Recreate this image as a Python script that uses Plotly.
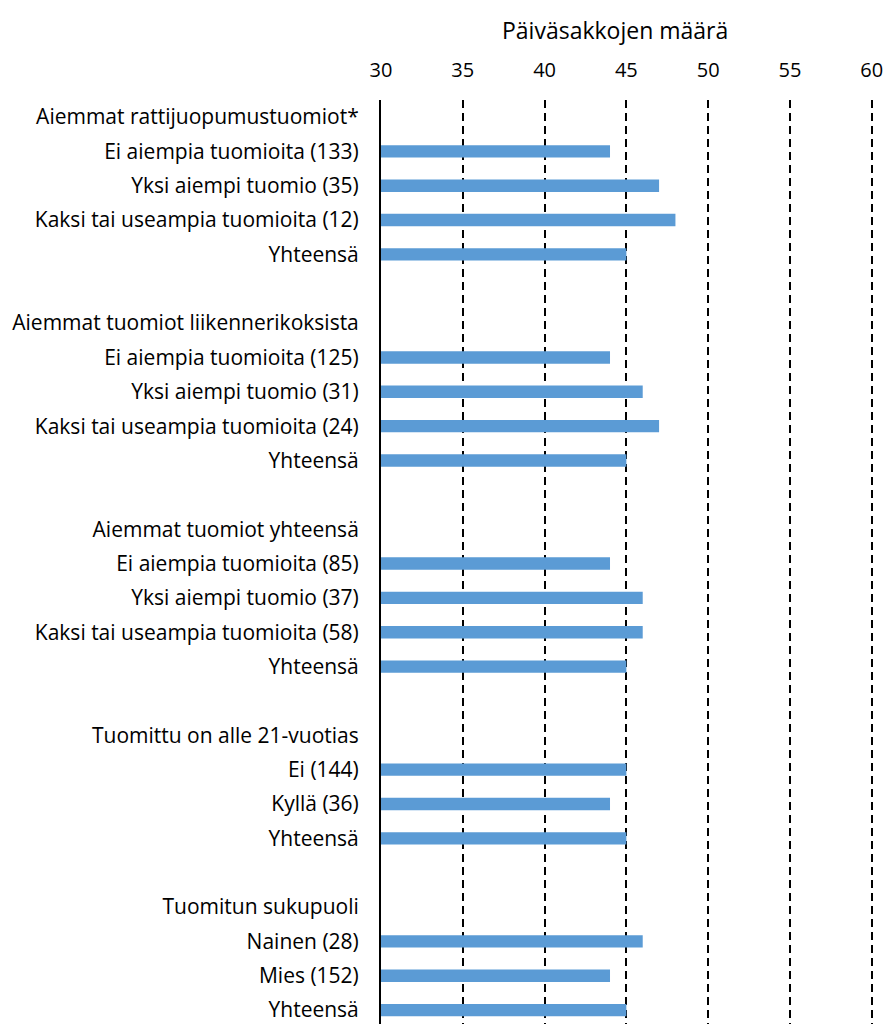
import plotly.graph_objects as go

labels = [
    "Aiemmat rattijuopumustuomiot*",
    "Ei aiempia tuomioita (133)",
    "Yksi aiempi tuomio (35)",
    "Kaksi tai useampia tuomioita (12)",
    "Yhteensä",
    "",
    "Aiemmat tuomiot liikennerikoksista",
    "Ei aiempia tuomioita (125)",
    "Yksi aiempi tuomio (31)",
    "Kaksi tai useampia tuomioita (24)",
    "Yhteensä",
    "",
    "Aiemmat tuomiot yhteensä",
    "Ei aiempia tuomioita (85)",
    "Yksi aiempi tuomio (37)",
    "Kaksi tai useampia tuomioita (58)",
    "Yhteensä",
    "",
    "Tuomittu on alle 21-vuotias",
    "Ei (144)",
    "Kyllä (36)",
    "Yhteensä",
    "",
    "Tuomitun sukupuoli",
    "Nainen (28)",
    "Mies (152)",
    "Yhteensä",
]

values = [
    None, 44, 47, 48, 45,
    None,
    None, 44, 46, 47, 45,
    None,
    None, 44, 46, 46, 45,
    None,
    None, 45, 44, 45,
    None,
    None, 46, 44, 45,
]

x_ticks = [30, 35, 40, 45, 50, 55, 60]
x_title = "Päiväsakkojen määrä"

positions = list(range(len(labels)))

FONT = "Open Sans"

fig = go.Figure(
    go.Bar(
        x=values,
        y=positions,
        orientation="h",
        marker=dict(color="#5B9BD5", line=dict(width=0)),
        width=0.36,
    )
)

fig.update_layout(
    width=888,
    height=1024,
    margin=dict(l=381, r=13, t=100, b=0),
    paper_bgcolor="white",
    plot_bgcolor="white",
    font=dict(family=FONT, size=20, color="#000000"),
    showlegend=False,
    xaxis=dict(
        side="top",
        range=[30, 60.2],
        tickvals=x_ticks,
        ticktext=[str(v) for v in x_ticks],
        showgrid=True,
        gridcolor="#000000",
        gridwidth=1.5,
        griddash="8px,5px",
        zeroline=False,
        showline=False,
        ticks="",
        ticklabelstandoff=18,
        ticklabeloverflow="allow",
        automargin=False,
        tickfont=dict(family=FONT, size=20, color="#000000"),
        fixedrange=True,
    ),
    yaxis=dict(
        range=[26.405, -0.495],
        tickvals=positions,
        ticktext=labels,
        showgrid=False,
        zeroline=False,
        showline=True,
        linecolor="#000000",
        linewidth=2,
        ticks="",
        ticklabelstandoff=16,
        ticklabeloverflow="allow",
        automargin=False,
        tickfont=dict(family=FONT, size=21, color="#000000"),
        fixedrange=True,
    ),
    annotations=[
        dict(
            text=x_title,
            xref="paper",
            yref="paper",
            x=0.474,
            y=1,
            xanchor="center",
            yanchor="middle",
            yshift=70,
            showarrow=False,
            font=dict(family=FONT, size=23, color="#000000"),
        )
    ],
)

fig.write_html(
    "out.html",
    config={"displayModeBar": False},
    post_script="document.body.style.margin='0';document.body.style.overflow='hidden';",
)
